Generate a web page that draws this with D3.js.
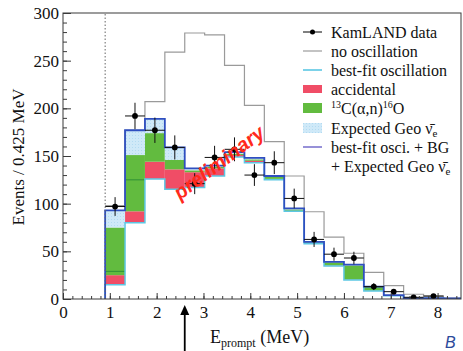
<!DOCTYPE html>
<html>
<head>
<meta charset="utf-8">
<script src="https://cdn.jsdelivr.net/npm/d3@7"></script>
<style>
  body { margin: 0; background: #fff; }
  svg { display: block; }
</style>
</head>
<body>
<script>
// Prompt-energy bins (lower edges, MeV) and bin width
const binLow = [0.900, 1.325, 1.750, 2.175, 2.600, 3.025, 3.450, 3.875, 4.300,
                4.725, 5.150, 5.575, 6.000, 6.425, 6.850, 7.275, 7.700, 8.125];
const binWidth = 0.425;

// Expected components per bin (events / 0.425 MeV), stacked bottom-up
const reactorFit  = [15, 80, 126, 115, 117, 129, 149, 143, 125, 92, 58, 34.5, 20, 8.5, 3.3, 0.8, 0.7, 0.3];
const accidental  = [10, 12, 18, 21, 16, 8, 2, 2, 1, 0.5, 0.5, 0.5, 0.3, 0.2, 0.1, 0.05, 0.05, 0];
const alphaN      = [50, 59, 30, 10, 2, 1.5, 1.5, 1.5, 2, 1.5, 1, 3.5, 15, 4, 0.4, 0.1, 0.2, 0.1];
const geoExpected = [18, 26, 15, 13, 2, 1.5, 1.5, 1.5, 1, 1, 0.5, 0.5, 0.7, 0.3, 0.2, 0.05, 0.05, 0.1];
// level of the inner 13C(alpha,n) boundary line (only in the lowest bins)
const alphaNInner = [29, 125, null, null, null, null, null, null, null,
                     null, null, null, null, null, null, null, null, null];

// No-oscillation expectation
const noOscillation = [98, 177, 207, 259, 279, 277, 245, 203, 165, 129, 91.5, 65, 48, 28, 14, 5, 3, 1];

// KamLAND observed events
const kamlandData = [97, 192, 177, 159, 121, 148.5, 157, 130, 143, 105.5, 62.5, 47, 43, 13, 7.7, 1.8, 3.1, null];

const xTicks = [0, 1, 2, 3, 4, 5, 6, 7, 8];
const yTicks = [0, 50, 100, 150, 200, 250, 300];
const analysisThreshold = 0.9;   // dotted line
const markerEnergy = 2.6;        // arrow below the axis

const W = 463, H = 351;
const colors = {
  accidental: "#f04d66",
  alphaN: "#62bb3f",
  alphaNLine: "#2f8f36",
  geo: "#cfe9f8",
  geoDot: "#b3dbf2",
  reactor: "#5cc7e4",
  total: "#2f4fc0",
  totalLegend: "#6a62c8",
  noOsc: "#9a9a9a",
  frame: "#3a3a3a"
};
const serif = "'Liberation Serif', 'DejaVu Serif', serif";

const svg = d3.select("body").append("svg")
  .attr("width", W).attr("height", H)
  .style("font-family", serif);

const x = d3.scaleLinear().domain([0, 8.5]).range([63, 461]);
const y = d3.scaleLinear().domain([0, 300]).range([299, 13]);

const defs = svg.append("defs");
defs.append("clipPath").attr("id", "plotClip")
  .append("rect").attr("x", 63).attr("y", 13).attr("width", 398).attr("height", 286);
const pat = defs.append("pattern").attr("id", "geoFill")
  .attr("patternUnits", "userSpaceOnUse").attr("width", 3).attr("height", 3);
pat.append("rect").attr("width", 3).attr("height", 3).attr("fill", colors.geo);
pat.append("rect").attr("width", 1).attr("height", 1).attr("fill", colors.geoDot);

const plot = svg.append("g").attr("clip-path", "url(#plotClip)");

// stacked components
const rows = binLow.map((b, i) => ({
  low: b,
  reactor: reactorFit[i],
  accidental: accidental[i],
  alphaN: alphaN[i],
  geo: geoExpected[i]
}));
const stacked = d3.stack().keys(["reactor", "accidental", "alphaN", "geo"])(rows);
const fills = { accidental: colors.accidental, alphaN: colors.alphaN, geo: "url(#geoFill)" };

stacked.slice(1).forEach(layer => {
  plot.append("g").selectAll("rect").data(layer).join("rect")
    .attr("x", d => x(d.data.low))
    .attr("width", d => x(d.data.low + binWidth) - x(d.data.low))
    .attr("y", d => y(d[1]))
    .attr("height", d => Math.max(0, y(d[0]) - y(d[1])))
    .attr("fill", fills[layer.key]);
});

// inner alpha-n boundary
plot.append("g").selectAll("line")
  .data(binLow.map((b, i) => ({ low: b, v: alphaNInner[i] })).filter(d => d.v !== null))
  .join("line")
  .attr("x1", d => x(d.low)).attr("x2", d => x(d.low + binWidth))
  .attr("y1", d => y(d.v)).attr("y2", d => y(d.v))
  .attr("stroke", colors.alphaNLine).attr("stroke-width", 1);

// step outlines
const stepLine = d3.line().x(d => x(d[0])).y(d => y(d[1])).curve(d3.curveStepAfter);
function stepPoints(vals, closeToZero) {
  const n = vals.length;
  const pts = [];
  if (closeToZero) pts.push([binLow[0], 0]);
  vals.forEach((v, i) => pts.push([binLow[i], v]));
  pts.push([binLow[n - 1] + binWidth, vals[n - 1]]);
  if (closeToZero) pts.push([binLow[n - 1] + binWidth, 0]);
  return pts;
}
const totals = stacked[3].map(d => d[1]);

plot.append("path").attr("d", stepLine(stepPoints(noOscillation, false)))
  .attr("fill", "none").attr("stroke", colors.noOsc).attr("stroke-width", 1.2);
plot.append("path").attr("d", stepLine(stepPoints(reactorFit, true)))
  .attr("fill", "none").attr("stroke", colors.reactor).attr("stroke-width", 1.5);
plot.append("path").attr("d", stepLine(stepPoints(totals, true)))
  .attr("fill", "none").attr("stroke", colors.total).attr("stroke-width", 1.8);

// analysis threshold (dotted)
svg.append("line")
  .attr("x1", x(analysisThreshold)).attr("x2", x(analysisThreshold))
  .attr("y1", y(0)).attr("y2", y(300))
  .attr("stroke", "#666").attr("stroke-width", 1).attr("stroke-dasharray", "1.5,2");

// data points with errors
const pts = binLow.map((b, i) => ({ low: b, v: kamlandData[i] })).filter(d => d.v !== null);
const dataG = plot.append("g");
dataG.selectAll("line.h").data(pts).join("line").attr("class", "h")
  .attr("x1", d => x(d.low)).attr("x2", d => x(d.low + binWidth))
  .attr("y1", d => y(d.v)).attr("y2", d => y(d.v))
  .attr("stroke", "#111").attr("stroke-width", 1);
dataG.selectAll("line.v").data(pts).join("line").attr("class", "v")
  .attr("x1", d => x(d.low + binWidth / 2)).attr("x2", d => x(d.low + binWidth / 2))
  .attr("y1", d => y(d.v + Math.sqrt(d.v))).attr("y2", d => y(Math.max(0, d.v - Math.sqrt(d.v))))
  .attr("stroke", "#111").attr("stroke-width", 1);
dataG.selectAll("circle").data(pts).join("circle")
  .attr("cx", d => x(d.low + binWidth / 2)).attr("cy", d => y(d.v))
  .attr("r", 2.9).attr("fill", "#000");

// frame
svg.append("rect").attr("x", 63).attr("y", 13).attr("width", 398).attr("height", 286)
  .attr("fill", "none").attr("stroke", colors.frame).attr("stroke-width", 1);

// axes
function styleAxis(g) {
  g.select(".domain").remove();
  g.selectAll("line").attr("stroke", colors.frame);
  g.selectAll("text").style("font-family", serif).style("font-size", "17px").attr("fill", "#111");
}
svg.append("g").attr("transform", "translate(63,0)")
  .call(d3.axisLeft(y).tickValues(d3.range(0, 301, 10)).tickSize(-4).tickFormat(""))
  .call(styleAxis);
svg.append("g").attr("transform", "translate(63,0)")
  .call(d3.axisLeft(y).tickValues(yTicks).tickSize(-8).tickPadding(4).tickFormat(d3.format("d")))
  .call(styleAxis);
svg.append("g").attr("transform", "translate(0,299)")
  .call(d3.axisBottom(x).tickValues(d3.range(0, 8.41, 0.2)).tickSize(-3).tickFormat(""))
  .call(styleAxis);
svg.append("g").attr("transform", "translate(0,299)")
  .call(d3.axisBottom(x).tickValues(xTicks).tickSize(-6).tickPadding(7).tickFormat(d3.format("d")))
  .call(styleAxis);

// axis titles
svg.append("text")
  .attr("transform", "translate(24,157) rotate(-90)")
  .attr("text-anchor", "middle").style("font-size", "17px").attr("fill", "#111")
  .text("Events / 0.425 MeV");
const xt = svg.append("text").attr("x", 210).attr("y", 343)
  .style("font-size", "18px").attr("fill", "#111");
xt.append("tspan").text("E");
xt.append("tspan").attr("dy", 4).style("font-size", "12px").text("prompt");
xt.append("tspan").attr("dy", -4).text(" (MeV)");

// arrow below the axis
const ax = x(markerEnergy);
svg.append("line").attr("x1", ax).attr("x2", ax).attr("y1", 351).attr("y2", 312)
  .attr("stroke", "#000").attr("stroke-width", 1.8);
svg.append("path").attr("d", `M${ax},305 L${ax - 4.5},315 L${ax + 4.5},315 Z`).attr("fill", "#000");

// watermark
svg.append("text")
  .attr("transform", "translate(223,168) rotate(-37)")
  .attr("text-anchor", "middle")
  .style("font-family", "'Liberation Sans', Arial, sans-serif")
  .style("font-weight", "bold").style("font-style", "italic")
  .style("font-size", "20px").attr("fill", "#ff2a1c")
  .text("preliminary");

// legend
const lg = svg.append("g").style("font-size", "16px").attr("fill", "#111");
const lx0 = 303, lx1 = 322, tx = 331;
const rowsY = [32, 51, 70, 89, 108, 128, 147, 166];
function legendText(yc) {
  return lg.append("text").attr("x", tx).attr("y", yc + 5.5);
}
// data
lg.append("line").attr("x1", lx0).attr("x2", lx1).attr("y1", rowsY[0]).attr("y2", rowsY[0])
  .attr("stroke", "#000").attr("stroke-width", 1);
lg.append("circle").attr("cx", (lx0 + lx1) / 2).attr("cy", rowsY[0]).attr("r", 2.5).attr("fill", "#000");
legendText(rowsY[0]).text("KamLAND data");
// no oscillation
lg.append("line").attr("x1", lx0).attr("x2", lx1).attr("y1", rowsY[1]).attr("y2", rowsY[1])
  .attr("stroke", colors.noOsc).attr("stroke-width", 1.2);
legendText(rowsY[1]).text("no oscillation");
// best fit
lg.append("line").attr("x1", lx0).attr("x2", lx1).attr("y1", rowsY[2]).attr("y2", rowsY[2])
  .attr("stroke", colors.reactor).attr("stroke-width", 1.6);
legendText(rowsY[2]).text("best-fit oscillation");
// accidental
lg.append("rect").attr("x", lx0).attr("y", rowsY[3] - 4).attr("width", lx1 - lx0).attr("height", 8)
  .attr("fill", colors.accidental);
legendText(rowsY[3]).text("accidental");
// alpha-n
lg.append("rect").attr("x", lx0).attr("y", rowsY[4] - 5).attr("width", lx1 - lx0).attr("height", 10)
  .attr("fill", colors.alphaN);
const an = legendText(rowsY[4]);
an.append("tspan").attr("dy", -6).style("font-size", "10px").text("13");
an.append("tspan").attr("dy", 6).text("C(\u03B1,n)");
an.append("tspan").attr("dy", -6).style("font-size", "10px").text("16");
an.append("tspan").attr("dy", 6).text("O");
// geo
lg.append("rect").attr("x", lx0).attr("y", rowsY[5] - 5).attr("width", lx1 - lx0).attr("height", 10)
  .attr("fill", "url(#geoFill)");
const ge = legendText(rowsY[5]);
ge.append("tspan").text("Expected Geo \u03BD\u0304");
ge.append("tspan").attr("dy", 3).style("font-size", "11px").text("e");
// total
lg.append("line").attr("x1", lx0).attr("x2", lx1).attr("y1", rowsY[6]).attr("y2", rowsY[6])
  .attr("stroke", colors.totalLegend).attr("stroke-width", 1.4);
legendText(rowsY[6]).text("best-fit osci. + BG");
const ge2 = legendText(rowsY[7]);
ge2.append("tspan").text("+ Expected Geo \u03BD\u0304");
ge2.append("tspan").attr("dy", 3).style("font-size", "11px").text("e");

// corner mark
svg.append("text").attr("x", 445).attr("y", 348)
  .style("font-family", "'Liberation Sans', Arial, sans-serif")
  .style("font-style", "italic").style("font-size", "16px")
  .attr("fill", "#2c4a9a").text("B");
</script>
</body>
</html>
